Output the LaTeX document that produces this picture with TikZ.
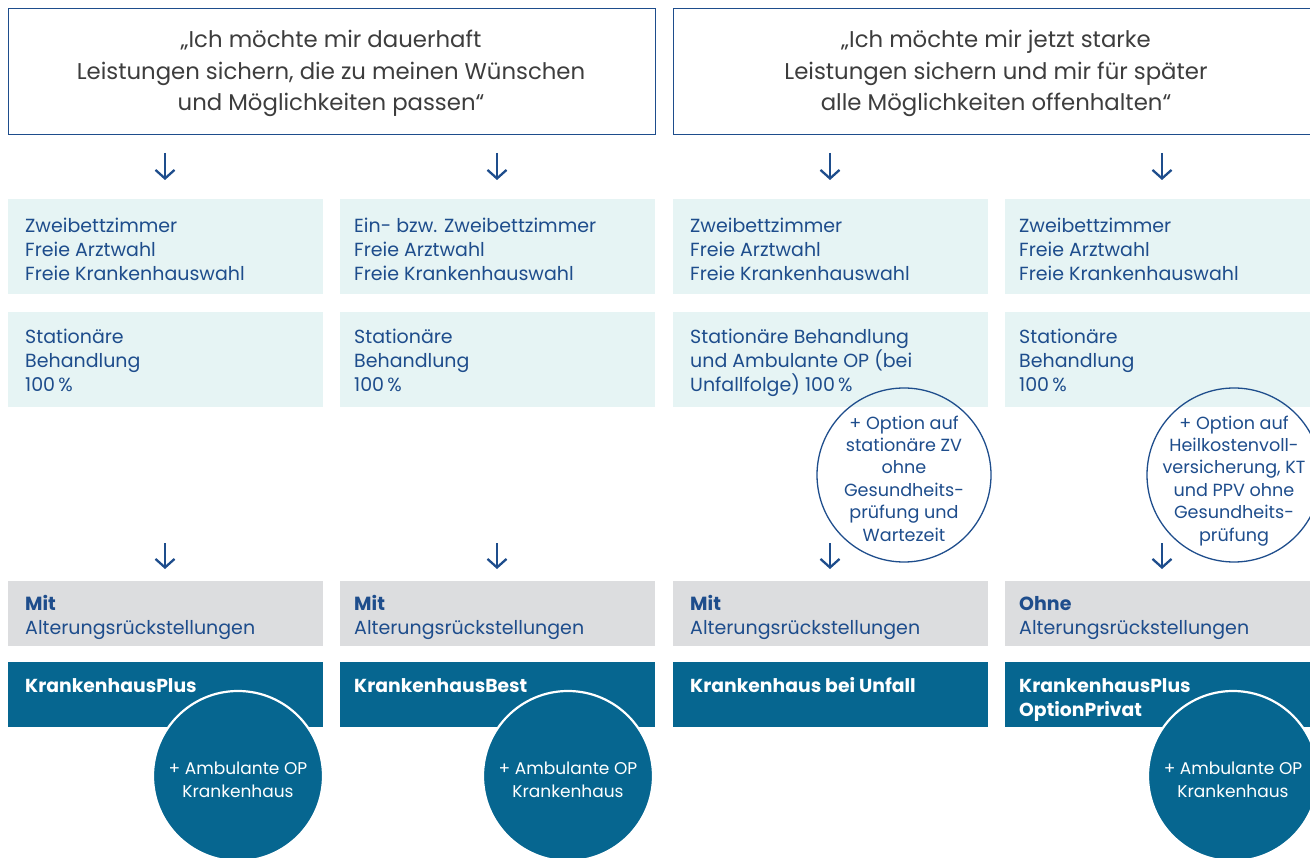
\documentclass[tikz,border=0pt]{standalone}
\usepackage{fontspec}
\setmainfont{Poppins}
\usetikzlibrary{arrows.meta}
\definecolor{navy}{HTML}{1E4D8C}
\definecolor{deepblue}{HTML}{066690}
\definecolor{lightcyan}{HTML}{E6F4F4}
\definecolor{greybox}{HTML}{DCDDDF}
\definecolor{quotegrey}{HTML}{3D3D3D}
\tikzset{
  quotebox/.style={draw=navy, line width=1.2pt, fill=white, anchor=north west, minimum width=647pt, minimum height=126pt, inner sep=0pt},
  quotetxt/.style={text=quotegrey, font=\fontsize{22.8}{31.5}\selectfont, align=center, inner sep=0pt},
  lbox/.style={fill=lightcyan, anchor=north west, minimum width=315pt, minimum height=95pt, inner sep=0pt},
  gbox/.style={fill=greybox, anchor=north west, minimum width=315pt, minimum height=65pt, inner sep=0pt},
  dbox/.style={fill=deepblue, anchor=north west, minimum width=315pt, minimum height=65pt, inner sep=0pt},
  btxt/.style={text=navy, font=\fontsize{19}{24}\selectfont, align=left, anchor=base west, inner sep=0pt},
  wtxt/.style={text=white, font=\bfseries\fontsize{18.8}{24}\selectfont, align=left, anchor=base west, inner sep=0pt},
  ocirc/.style={circle, draw=navy, line width=1.3pt, minimum size=174pt, inner sep=0pt},
  octxt/.style={text=navy, font=\fontsize{17.6}{22.4}\selectfont, align=center, inner sep=0pt},
  fcirc/.style={circle, fill=deepblue, draw=white, line width=2.2pt, minimum size=170pt, inner sep=0pt},
  fctxt/.style={text=white, font=\fontsize{17}{23}\selectfont, align=center, inner sep=0pt},
  darr/.style={draw=navy, line width=2.3pt, -{Straight Barb[length=8.5pt, width=19pt, line width=2.3pt]}},
}
\begin{document}
\begin{tikzpicture}[x=1pt,y=-1pt]
\useasboundingbox (0,0) rectangle (1310,858);
\fill[white] (0,0) rectangle (1310,858);

% quote boxes
\node[quotebox] (q1) at (8,8) {};
\node[quotebox, minimum width=660pt] (q2) at (673,8) {};
\node[quotetxt, anchor=base] (q1t) at (331,111) {„Ich möchte mir dauerhaft\\Leistungen sichern, die zu meinen Wünschen\\und Möglichkeiten passen“};
\node[quotetxt, anchor=base] (q2t) at (996,111) {„Ich möchte mir jetzt starke\\Leistungen sichern und mir für später\\alle Möglichkeiten offenhalten“};

% columns
\foreach \i/\x in {1/8, 2/340, 3/673, 4/1005} {
  \node[lbox] (a\i) at (\x,199) {};
  \node[lbox] (b\i) at (\x,312) {};
  \node[gbox] (g\i) at (\x,581) {};
  \node[dbox] (d\i) at (\x,662) {};
}

% arrows
\foreach \i/\x in {1/165, 2/497, 3/830, 4/1162} {
  \coordinate (s\i) at (\x,153);
  \coordinate (e\i) at (\x,180);
  \coordinate (t\i) at (\x,543);
  \coordinate (u\i) at (\x,569);
  \draw[darr] (s\i) -- (e\i);
  \draw[darr] (t\i) -- (u\i);
}

% light box texts (anchor = baseline of last line)
\node[btxt] (a1t) at (25,281) {Zweibettzimmer\\Freie Arztwahl\\Freie Krankenhauswahl};
\node[btxt] (a2t) at (354,281) {Ein- bzw. Zweibettzimmer\\Freie Arztwahl\\Freie Krankenhauswahl};
\node[btxt] (a3t) at (690,281) {Zweibettzimmer\\Freie Arztwahl\\Freie Krankenhauswahl};
\node[btxt] (a4t) at (1019,281) {Zweibettzimmer\\Freie Arztwahl\\Freie Krankenhauswahl};

\node[btxt] (b1t) at (25,392) {Stationäre\\Behandlung\\100\,\%};
\node[btxt] (b2t) at (354,392) {Stationäre\\Behandlung\\100\,\%};
\node[btxt] (b3t) at (690,392) {Stationäre Behandlung\\und Ambulante OP (bei\\Unfallfolge) 100\,\%};
\node[btxt] (b4t) at (1019,392) {Stationäre\\Behandlung\\100\,\%};

% option circles
\node[ocirc] (c3) at (904,475) {};
\node[ocirc] (c4) at (1234,475) {};
\node[octxt, anchor=base] (c3t) at (904,541) {+ Option auf\\stationäre ZV\\ohne\\Gesundheits-\\prüfung und\\Wartezeit};
\node[octxt, anchor=base] (c4t) at (1234,541) {+ Option auf\\Heilkostenvoll-\\versicherung, KT\\und PPV ohne\\Gesundheits-\\prüfung};

% grey texts
\foreach \i/\x/\w in {1/25/Mit, 2/354/Mit, 3/690/Mit, 4/1019/Ohne} {
  \node[btxt] (g\i t) at (\x,634) {\textbf{\w}\\Alterungsrückstellungen};
}

% dark texts
\node[wtxt] (d1t) at (25,692) {KrankenhausPlus};
\node[wtxt] (d2t) at (354,692) {KrankenhausBest};
\node[wtxt] (d3t) at (690,692) {Krankenhaus bei Unfall};
\node[wtxt] (d4t) at (1019,716) {KrankenhausPlus\\OptionPrivat};

% filled circles
\foreach \i/\x in {1/238, 2/568, 4/1233} {
  \node[fcirc] (f\i) at (\x,776) {};
  \node[fctxt, anchor=base] (f\i t) at (\x,797) {+ Ambulante OP\\Krankenhaus};
}
\end{tikzpicture}
\end{document}
